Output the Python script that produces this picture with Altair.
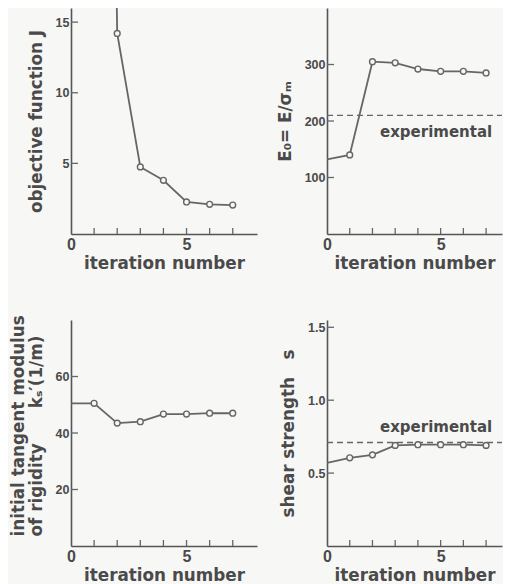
import altair as alt
import pandas as pd

# ---- data ----
iterations = [0, 1, 2, 3, 4, 5, 6, 7]
objective_J = [None, 120.0, 14.2, 4.75, 3.8, 2.27, 2.1, 2.05]   # iteration 1 is off-scale
E0 = [132, 140, 305, 303, 292, 288, 288, 285]
E0_experimental = 210
ks = [50.5, 50.5, 43.5, 44.0, 46.7, 46.7, 47.0, 47.0]
shear_s = [0.57, 0.605, 0.625, 0.69, 0.695, 0.695, 0.695, 0.69]
s_experimental = 0.71
x_minor_ticks = [1, 2, 3, 4, 5, 6, 7]
x_labels = [0, 5]
J_ticks = [5, 10, 15]
E0_ticks = [100, 200, 300]
ks_ticks = [20, 40, 60]
s_ticks = [0.5, 1.0, 1.5]
exp_label = ["experimental"]
exp_label_x = [4.8]

INK = "#4a4a4a"
LINE = "#666666"
BG = "#f7f7f5"
FONT = "DejaVu Sans"

H = 226
NB = "\u00a0"


def panel(values, ymax, yticks, ytitle, w, xmax, yfmt, exp=None, exp_dy=0, yaxis_extra=None):
    yaxis_extra = yaxis_extra or {}
    df = pd.DataFrame({"it": iterations, "v": values}).dropna()
    xenc = alt.X("it:Q", scale=alt.Scale(domain=[0, xmax], nice=False, zero=True),
                 axis=alt.Axis(values=x_labels, title="iteration number", format="d"))
    yenc = alt.Y("v:Q", scale=alt.Scale(domain=[0, ymax], nice=False, zero=True),
                 axis=alt.Axis(values=yticks, title=ytitle, format=yfmt, **yaxis_extra))
    line = alt.Chart(df).mark_line(color=LINE, strokeWidth=1.8, clip=True).encode(x=xenc, y=yenc)
    pts = (alt.Chart(df).transform_filter("datum.it > 0")
           .mark_circle(fill=BG, stroke=LINE, strokeWidth=1.4, size=34, opacity=1, clip=True)
           .encode(x=xenc, y=yenc))
    xt = (alt.Chart(pd.DataFrame({"it": x_minor_ticks}))
          .mark_rule(color=LINE, strokeWidth=1.3)
          .encode(x=xenc, y=alt.value(H), y2=alt.value(H - 6)))
    yt = (alt.Chart(pd.DataFrame({"v": yticks}))
          .mark_rule(color=LINE, strokeWidth=1.3)
          .encode(y=yenc, x=alt.value(0), x2=alt.value(7)))
    layers = [xt, yt]
    if exp is not None:
        dash = (alt.Chart(pd.DataFrame({"v": [exp]}))
                .mark_rule(color=LINE, strokeWidth=1.3, strokeDash=[6, 4])
                .encode(y=yenc, x=alt.value(0), x2=alt.value(w)))
        txt = (alt.Chart(pd.DataFrame({"it": exp_label_x, "v": [exp], "label": exp_label}))
               .mark_text(font=FONT, fontSize=15, fontWeight="bold", color=INK, dy=exp_dy, baseline="middle")
               .encode(x=xenc, y=yenc, text="label:N"))
        layers += [dash, txt]
    layers += [line, pts]
    return alt.layer(*layers).properties(width=w, height=H)


W1 = 186
W2 = 175
p1 = panel(objective_J, 16.0, J_ticks, "objective function J", W1, 8.05, "d")
p2 = panel(E0, 400, E0_ticks, "E\u2080= E/\u03c3\u2098", W2, 7.7, "d", exp=E0_experimental, exp_dy=17)
p3 = panel(ks, 80, ks_ticks,
           ["initial tangent modulus", "of rigidity" + NB * 6 + "k\u209b\u2032(1/m)"],
           W1, 8.05, "d",
           yaxis_extra={"titleLineHeight": 18, "titleAlign": "left", "titleY": 216})
p4 = panel(shear_s, 1.55, s_ticks, "shear strength" + NB * 3 + "s", W2, 7.7, ".1f",
           exp=s_experimental, exp_dy=-15)

chart = (alt.concat(p1, p2, p3, p4, columns=2, bounds="flush",
                    spacing={"row": 86, "column": 70})
         .properties(padding={"left": 2, "top": 0, "right": 0, "bottom": 0}, background=BG)
         .configure_view(stroke=None)
         .configure_axis(domainColor="#555555", domainWidth=1.6, ticks=False, tickSize=0, grid=False,
                         labelFont="Liberation Sans", labelFontWeight="bold", labelColor=INK,
                         titleFont=FONT, titleFontWeight="bold", titleColor=INK, titleFontSize=16.8)
         .configure_axisX(labelFontSize=16, labelPadding=2, titlePadding=3, labelFlush=False)
         .configure_axisY(labelFontSize=12.5, labelPadding=2, titlePadding=10))

chart.save("out.html", embed_options={"renderer": "svg", "actions": False})
